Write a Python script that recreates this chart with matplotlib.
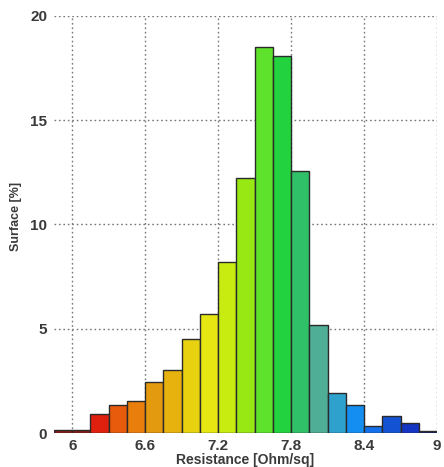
import matplotlib
matplotlib.use("Agg")
import matplotlib.pyplot as plt

# histogram bins (left edges, Ohm/sq) and surface share in %
bin_left = [5.85, 6.0, 6.15, 6.3, 6.45, 6.6, 6.75, 6.9, 7.05, 7.2, 7.35,
            7.5, 7.65, 7.8, 7.95, 8.1, 8.25, 8.4, 8.55, 8.7, 8.85]
surface = [0.15, 0.15, 0.9, 1.35, 1.55, 2.45, 3.0, 4.5, 5.7, 8.2, 12.25,
           18.5, 18.1, 12.55, 5.2, 1.9, 1.35, 0.35, 0.8, 0.5, 0.1]
bar_colors = ["#8a1c14", "#8a1c14", "#e0200e", "#e85a0c", "#ea7e0c",
              "#e49a0e", "#e8b20e", "#e8d210", "#e6e612", "#c8ec10",
              "#98e814", "#5ee22c", "#22d23e", "#30c068", "#4eae96",
              "#2ea2cc", "#148ef0", "#1470ea", "#1452d4", "#1434c2",
              "#14206a"]
bin_width = 0.15

x_ticks = [6, 6.6, 7.2, 7.8, 8.4, 9]
x_tick_labels = ["6", "6.6", "7.2", "7.8", "8.4", "9"]
y_ticks = [0, 5, 10, 15, 20]

plt.rcParams["font.family"] = ["Liberation Sans", "DejaVu Sans"]

fig = plt.figure(figsize=(4.44, 4.67), dpi=100)
ax = fig.add_axes([0.1216, 0.0728, 0.8626, 0.893])

ax.bar(bin_left, surface, width=bin_width, align="edge",
       color=bar_colors, edgecolor="#2a2a2a", linewidth=1.0, zorder=3)

ax.set_xlim(5.85, 9.0)
ax.set_ylim(0, 20)
ax.set_xticks(x_ticks)
ax.set_xticklabels(x_tick_labels)
ax.set_yticks(y_ticks)

ax.grid(True, linestyle=(0, (1.2, 2.0)), color="#777777", linewidth=1.0, zorder=0)
for s in ax.spines.values():
    s.set_visible(False)

ax.tick_params(length=0, labelsize=11, labelcolor="#3a3a3a", pad=4)
ax.tick_params(axis="y", pad=5)
for lab in ax.get_xticklabels() + ax.get_yticklabels():
    lab.set_fontweight("bold")

ax.set_xlabel("Resistance [Ohm/sq]", fontsize=10, fontweight="bold",
              color="#3a3a3a", labelpad=0)
ax.set_ylabel("Surface [%]", fontsize=9, fontweight="bold", color="#3a3a3a")
ax.yaxis.set_label_coords(-0.083, 0.52)

fig.savefig("out.png", dpi=100)
